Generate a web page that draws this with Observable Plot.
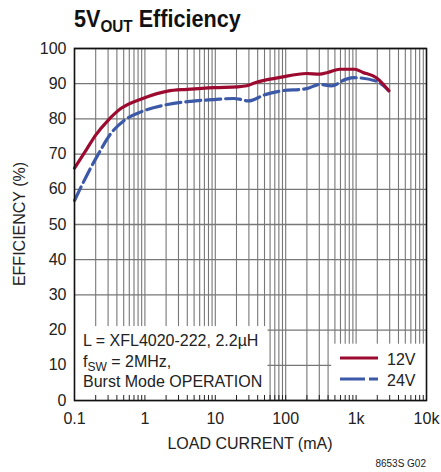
<!DOCTYPE html>
<html>
<head>
<meta charset="utf-8">
<script src="https://cdn.jsdelivr.net/npm/d3@7"></script>
<script src="https://cdn.jsdelivr.net/npm/@observablehq/plot@0.6"></script>
<style>
  html, body { margin: 0; padding: 0; background: white; }
  svg { display: block; }
</style>
</head>
<body>
<div id="chart"></div>
<script>
// ---- data ----
const red12X = [0.1, 0.15, 0.2, 0.3, 0.46, 0.93, 2.1, 4, 9.6, 20.6, 28, 35, 51, 83, 198, 303, 398, 586, 955, 1250, 1940, 2920];
const red12Y = [66, 71.5, 75.4, 79.6, 83, 85.8, 87.9, 88.4, 88.9, 89.1, 89.4, 90.1, 91, 91.8, 92.9, 92.7, 93.2, 94.1, 94.1, 93.2, 91.7, 88];
const blue24X = [0.1, 0.15, 0.214, 0.33, 0.51, 0.88, 2.1, 4.5, 9.6, 18.5, 22, 29.5, 51, 83, 198, 303, 445, 728, 955, 1940, 2920];
const blue24Y = [56.8, 64, 69.7, 75.9, 79.6, 82, 84.1, 85, 85.5, 85.8, 85.6, 85.1, 86.9, 87.9, 88.6, 89.8, 89.4, 91.3, 91.7, 90.7, 88];
const seriesNames = ["12V", "24V"];
const seriesColors = ["#9c0a30", "#3c59a8"];
const xTickValues = [0.1, 1, 10, 100, 1000, 10000];
const xTickLabels = ["0.1", "1", "10", "100", "1k", "10k"];
const yTickValues = [0, 10, 20, 30, 40, 50, 60, 70, 80, 90, 100];
const noteLines = ["L = XFL4020-222, 2.2µH", "f", "SW", " = 2MHz,", "Burst Mode OPERATION"];
// white boxes behind annotation and legend (data space)
const boxX1 = [0.1, 450];
const boxX2 = [56, 10000];
const boxY2 = [21, 16];

// ---- derived tables ----
const gridX = [];
for (let e = -1; e <= 3; e++) for (let m = 1; m <= 9; m++) gridX.push(+(m * Math.pow(10, e)).toPrecision(3));
gridX.push(10000);
const red = red12X.map((x, i) => ({x, y: red12Y[i]}));
const blue = blue24X.map((x, i) => ({x, y: blue24Y[i]}));
const boxes = boxX1.map((x1, i) => ({x1, x2: boxX2[i], y1: 0, y2: boxY2[i]}));

const W = 441, H = 472, ML = 74, MR = 15, MT = 48, MB = 72;
const font = "'Liberation Sans', Arial, Helvetica, sans-serif";

const plot = Plot.plot({
  width: W, height: H,
  marginLeft: ML, marginRight: MR, marginTop: MT, marginBottom: MB,
  x: {type: "log", domain: [0.1, 10000]},
  y: {domain: [0, 100]},
  style: {fontFamily: font, fontSize: "16px", color: "#222", background: "white", overflow: "visible"},
  marks: [
    Plot.ruleX(gridX, {stroke: "#777", strokeWidth: 1.1}),
    Plot.ruleY(yTickValues, {stroke: "#777", strokeWidth: 1.3}),
    Plot.rect(boxes, {x1: "x1", x2: "x2", y1: "y1", y2: "y2", fill: "white"}),
    Plot.ruleX(gridX, {stroke: "#222", strokeWidth: 1, insetTop: (H - MT - MB) - 5}),
    Plot.line(blue, {x: "x", y: "y", stroke: seriesColors[1], strokeWidth: 3.2, strokeDasharray: "15,5", curve: "monotone-x"}),
    Plot.line(red, {x: "x", y: "y", stroke: seriesColors[0], strokeWidth: 3.2, curve: "monotone-x"}),
    Plot.frame({stroke: "#111", strokeWidth: 1.6}),
    Plot.axisX({ticks: xTickValues, tickFormat: d => xTickLabels[xTickValues.indexOf(d)], tickSize: 0, tickPadding: 12, label: null}),
    Plot.axisY({ticks: yTickValues, tickSize: 0, tickPadding: 8, label: null})
  ]
});

document.getElementById("chart").appendChild(plot);

const svg = d3.select(plot);
const xs = plot.scale("x"), ys = plot.scale("y");
const fLeft = xs.range[0], fRight = xs.range[1];
const fTop = ys.range[1], fBottom = ys.range[0];

// Title
const title = svg.append("text")
  .attr("transform", `translate(${fLeft},27) scale(0.9,1)`)
  .attr("text-anchor", "start")
  .attr("font-family", font).attr("font-weight", "bold").attr("fill", "#111");
title.append("tspan").attr("font-size", 24).text("5V");
title.append("tspan").attr("font-size", 17).attr("dy", 5).text("OUT");
title.append("tspan").attr("font-size", 24).attr("dy", -5).text(" Efficiency");

// Axis titles
svg.append("text").attr("x", (fLeft + fRight) / 2).attr("y", 449)
  .attr("text-anchor", "middle").attr("font-family", font).attr("font-size", 16).attr("fill", "#222")
  .text("LOAD CURRENT (mA)");
svg.append("text").attr("transform", `translate(25,${(fTop + fBottom) / 2}) rotate(-90)`)
  .attr("text-anchor", "middle").attr("font-family", font).attr("font-size", 16).attr("fill", "#222")
  .text("EFFICIENCY (%)");

// Annotation
const note = svg.append("g").attr("text-anchor", "start").attr("font-family", font).attr("font-size", 16).attr("fill", "#222");
note.append("text").attr("x", fLeft + 9).attr("y", fBottom - 54).text(noteLines[0]);
const l2 = note.append("text").attr("x", fLeft + 9).attr("y", fBottom - 33);
l2.append("tspan").text(noteLines[1]);
l2.append("tspan").attr("font-size", 12).attr("dy", 4).text(noteLines[2]);
l2.append("tspan").attr("dy", -4).text(noteLines[3]);
note.append("text").attr("x", fLeft + 9).attr("y", fBottom - 13).text(noteLines[4]);

// Legend
const leg = svg.append("g").attr("text-anchor", "start").attr("font-family", font).attr("font-size", 16).attr("fill", "#222");
const legRows = [fBottom - 42, fBottom - 21];
seriesNames.forEach((name, i) => {
  leg.append("line").attr("x1", fRight - 86).attr("x2", fRight - 48)
    .attr("y1", legRows[i]).attr("y2", legRows[i])
    .attr("stroke", seriesColors[i]).attr("stroke-width", 3.2)
    .attr("stroke-dasharray", i === 1 ? "25,4,9" : null);
  leg.append("text").attr("x", fRight - 39).attr("y", legRows[i] + 7).text(name);
});

// Caption
svg.append("text").attr("x", fRight).attr("y", 467).attr("text-anchor", "end")
  .attr("font-family", font).attr("font-size", 10).attr("fill", "#222").text("8653S G02");
</script>
</body>
</html>
